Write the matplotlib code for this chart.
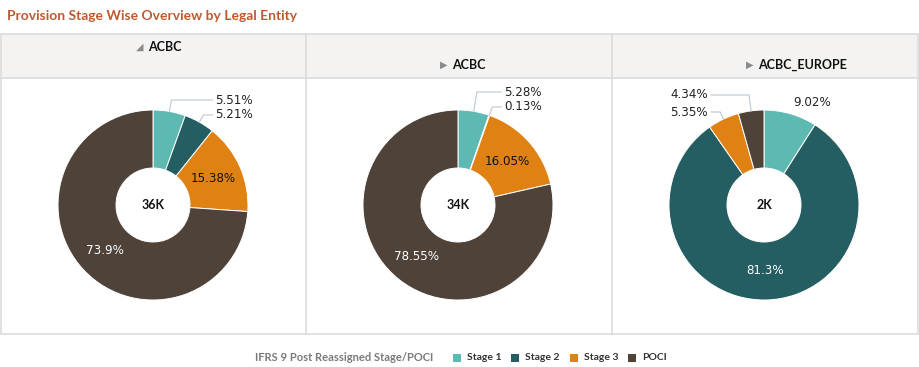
import numpy as np
import matplotlib
matplotlib.use("Agg")
import matplotlib.pyplot as plt
from matplotlib.patches import Rectangle

W, H = 919, 367

# chart data
entities = ["ACBC", "ACBC", "ACBC_EUROPE"]
totals = ["36K", "34K", "2K"]
stages = ["Stage 1", "Stage 2", "Stage 3", "POCI"]
share_acbc_1 = [5.51, 5.21, 15.38, 73.9]
share_acbc_2 = [5.28, 0.13, 16.05, 78.55]
share_europe = [9.02, 81.3, 5.35, 4.34]
legend_title = "IFRS 9 Post Reassigned Stage/POCI"

COLORS = ["#5dbab3", "#245e63", "#e08213", "#4e4239"]
TEXT_ON = ["#111111", "#ffffff", "#111111", "#ffffff"]
LEADER = "#c3ccd8"
GRID = "#dcdcdc"

# label placement per pie: mode of every slice and y of the leader labels
label_modes = [
    ["lead", "lead", "in", "in"],
    ["lead", "lead", "in", "in"],
    ["out", "in", "lead", "lead"],
]
leader_y = [[100, 115], [92, 107], [112, 95]]

R_OUT, R_IN = 95, 37
centers_x = [153, 458, 764]
CY = 205


def pct(v):
    return f"{v:g}%"


# draws table frame and header cells
def draw_frame(ax):
    ax.add_patch(Rectangle((1, 34), 917, 44, facecolor="#f4f3f2", edgecolor="none", zorder=0))
    ax.add_patch(Rectangle((1, 34), 917, 300, facecolor="none", edgecolor=GRID, lw=1.2, zorder=1))
    ax.plot([1, 918], [78, 78], color=GRID, lw=1.2, zorder=1)
    for x in [306, 612]:
        ax.plot([x, x], [34, 334], color=GRID, lw=1.2, zorder=1)

    head_y = [47, 65, 65]
    head_dx = [-5, -6, -6]
    arrows = ["\u25e2", "\u25b6", "\u25b6"]
    for i, name in enumerate(entities):
        left = centers_x[i] + head_dx[i]
        ax.text(left, head_y[i], name, ha="left", va="center",
                fontsize=9, fontweight="bold", family="Lato", color="#111111")
        ax.text(left - 8, head_y[i], arrows[i], ha="center", va="center",
                fontsize=7, color="#8a8a8a", family="DejaVu Sans")


# draws one donut with its labels
def draw_donut(ax, i, values):
    cx = centers_x[i]
    wedges, _ = ax.pie(values, colors=COLORS, radius=R_OUT, center=(cx, CY),
                       startangle=-90, counterclock=True,
                       wedgeprops=dict(width=R_OUT - R_IN, edgecolor="white", linewidth=0.7))
    for w in wedges:
        w.set_zorder(3)

    cum = np.cumsum([0] + list(values))
    mids = (cum[:-1] + np.array(values) / 2) / 100 * 2 * np.pi
    lead_idx = [k for k, m in enumerate(label_modes[i]) if m == "lead"]
    elbows = {}
    for n, k in enumerate(lead_idx):
        a = mids[k]
        ex, ey = cx + R_OUT * np.sin(a), CY - R_OUT * np.cos(a)
        ty = leader_y[i][n]
        bx = ex + (ey - ty) * np.tan(a)
        elbows[k] = (ex, ey, bx, ty)

    if lead_idx:
        xs = [elbows[k][2] for k in lead_idx]
        right = np.sin(mids[lead_idx[0]]) > 0
        tx = max(xs) + 12 if right else min(xs) - 12

    for k, mode in enumerate(label_modes[i]):
        a = mids[k]
        if mode == "in":
            r = (R_OUT + R_IN) / 2
            ax.text(cx + r * np.sin(a), CY - r * np.cos(a), pct(values[k]), ha="center",
                    va="center", fontsize=8.6, color=TEXT_ON[k], zorder=5)
        elif mode == "out":
            r = R_OUT * 1.12
            ax.text(cx + r * np.sin(a), CY - r * np.cos(a), pct(values[k]), ha="left",
                    va="center", fontsize=8.6, color="#222222", zorder=5)
        else:
            ex, ey, bx, ty = elbows[k]
            hx = tx - 3 if right else tx + 3
            ax.plot([ex, bx, hx], [ey, ty, ty], color=LEADER, lw=0.9, zorder=4)
            ax.text(tx, ty, pct(values[k]), ha="left" if right else "right", va="center",
                    fontsize=8.6, color="#222222", zorder=5)

    ax.text(cx, CY, totals[i], ha="center", va="center", fontsize=9,
            fontweight="bold", family="Lato", color="#111111", zorder=5)


# legend along the bottom
def draw_legend(ax):
    ax.text(255, 357.5, legend_title, ha="left", va="center", fontsize=8,
            fontweight="bold", family="Lato", color="#7a7a7a")
    box_x = [453, 511, 570, 628]
    for x, name, c in zip(box_x, stages, COLORS):
        ax.add_patch(Rectangle((x, 354), 8, 8, facecolor=c, edgecolor="none"))
        ax.text(x + 14, 357.5, name, ha="left", va="center", fontsize=7.5,
                fontweight="bold", family="Lato", color="#333333")


fig = plt.figure(figsize=(W / 100, H / 100), dpi=100)
ax = fig.add_axes([0, 0, 1, 1])

draw_frame(ax)
for i, vals in enumerate([share_acbc_1, share_acbc_2, share_europe]):
    draw_donut(ax, i, vals)
draw_legend(ax)

ax.text(7, 15.5, "Provision Stage Wise Overview by Legal Entity", ha="left", va="center",
        fontsize=10, fontweight="bold", family="Lato", color="#bf5a2e")

ax.set_xlim(0, W)
ax.set_ylim(H, 0)
ax.set_aspect("auto")
ax.axis("off")

fig.savefig("out.png", dpi=100)
